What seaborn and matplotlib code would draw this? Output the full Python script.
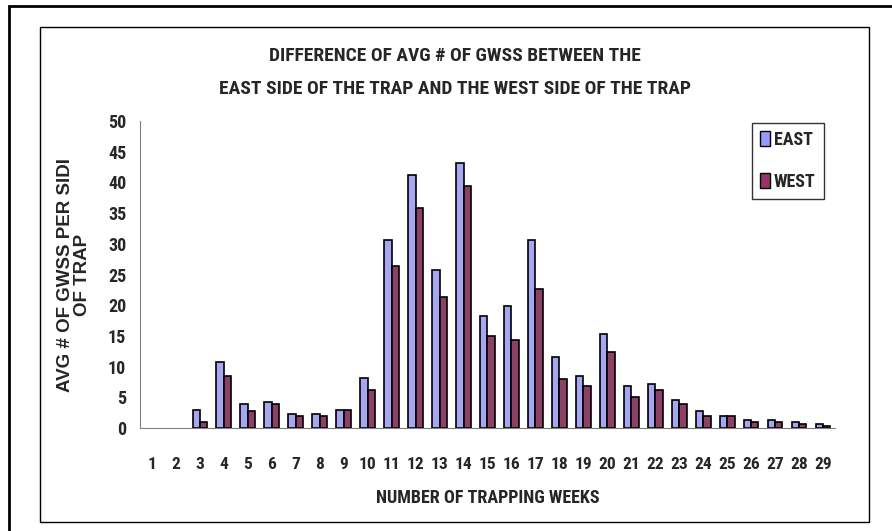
import matplotlib
matplotlib.use("Agg")
import matplotlib.pyplot as plt
import seaborn as sns
import pandas as pd
import numpy as np
from matplotlib.patches import Rectangle, Patch
from matplotlib.font_manager import FontProperties

weeks = list(range(1, 30))
east = [0, 0, 3.0, 10.7, 3.9, 4.2, 2.3, 2.3, 3.0, 8.2,
        30.6, 41.2, 25.8, 43.2, 18.3, 19.9, 30.6, 11.5, 8.5, 15.3,
        6.9, 7.2, 4.6, 2.7, 1.95, 1.3, 1.3, 1.0, 0.7]
west = [0, 0, 1.0, 8.5, 2.7, 3.9, 1.95, 1.95, 3.0, 6.2,
        26.4, 35.8, 21.3, 39.5, 15.0, 14.4, 22.7, 7.9, 6.9, 12.4,
        5.0, 6.2, 3.9, 1.95, 1.95, 1.0, 1.0, 0.7, 0.4]
sides = ["EAST", "WEST"]
colors = {"EAST": "#9999FF", "WEST": "#993366"}

df = pd.DataFrame({
    "week": weeks * 2,
    "value": east + west,
    "side": ["EAST"] * len(weeks) + ["WEST"] * len(weeks),
})

sns.set_style("white")
plt.rcParams["font.family"] = ["Roboto Condensed", "DejaVu Sans"]
plt.rcParams["font.stretch"] = "condensed"
plt.rcParams["font.weight"] = "bold"

fig = plt.figure(figsize=(8.92, 5.31), dpi=100)
ax = fig.add_axes([0.157, 0.194, 0.779, 0.578])

sns.barplot(data=df, x="week", y="value", hue="side", palette=colors,
            edgecolor="black", linewidth=1.2, width=0.62, legend=False, ax=ax)
# no outline for empty weeks
for p in ax.patches:
    if p.get_height() == 0:
        p.set_linewidth(0)

ax.set_ylim(0, 50)
ax.set_xlim(-0.5, len(weeks) - 0.5)
ax.set_yticks(np.arange(0, 51, 5))
ax.set_yticklabels([str(v) for v in range(0, 51, 5)], fontsize=13, fontweight="bold")
ax.set_xticks(range(len(weeks)))
ax.set_xticklabels([str(w) for w in weeks], fontsize=12.5, fontweight="bold")
ax.set_xticks(np.arange(-0.5, len(weeks), 1), minor=True)
ax.tick_params(axis="x", which="major", length=0, pad=21)
ax.tick_params(axis="x", which="minor", length=6, width=1, color="black", direction="out")
ax.tick_params(axis="y", length=6, width=1, color="#808080", direction="out", pad=4)

for side in ["top", "right"]:
    ax.spines[side].set_visible(False)
ax.spines["left"].set_color("#808080")
ax.spines["bottom"].set_color("#808080")

ax.set_xlabel("NUMBER OF TRAPPING WEEKS", fontsize=13, fontweight="bold", labelpad=12)
ylab_font = FontProperties(family=["Liberation Sans", "DejaVu Sans"], weight="bold",
                           stretch="normal", size=13.5)
ax.set_ylabel("AVG # OF GWSS PER SIDI\nOF TRAP", fontproperties=ylab_font,
              labelpad=12, linespacing=1.0)

fig.text(0.51, 0.894, "DIFFERENCE OF AVG # OF GWSS BETWEEN THE",
         ha="center", va="center", fontsize=14, fontweight="bold")
fig.text(0.51, 0.832, "EAST SIDE OF THE TRAP AND THE WEST SIDE OF THE TRAP",
         ha="center", va="center", fontsize=14, fontweight="bold")

handles = [Patch(facecolor=colors[s], edgecolor="black", label=s) for s in sides]
leg = ax.legend(handles=handles, loc="upper left", bbox_to_anchor=(0.881, 0.994),
                borderaxespad=0, frameon=True, fancybox=False, edgecolor="black",
                handlelength=0.55, handleheight=0.9, handletextpad=0.2,
                labelspacing=1.3, borderpad=0.45, prop={"weight": "bold", "size": 13})
leg.get_frame().set_linewidth(1.0)

# outer and inner frames around the chart
fig.patches.append(Rectangle((0.0101, -0.05), 1.1, 1.038, transform=fig.transFigure,
                             fill=False, edgecolor="black", linewidth=2.0, zorder=0))
fig.patches.append(Rectangle((0.0448, 0.017), 0.9294, 0.932, transform=fig.transFigure,
                             fill=False, edgecolor="black", linewidth=1.0, zorder=0))

fig.savefig("out.png", dpi=100)
